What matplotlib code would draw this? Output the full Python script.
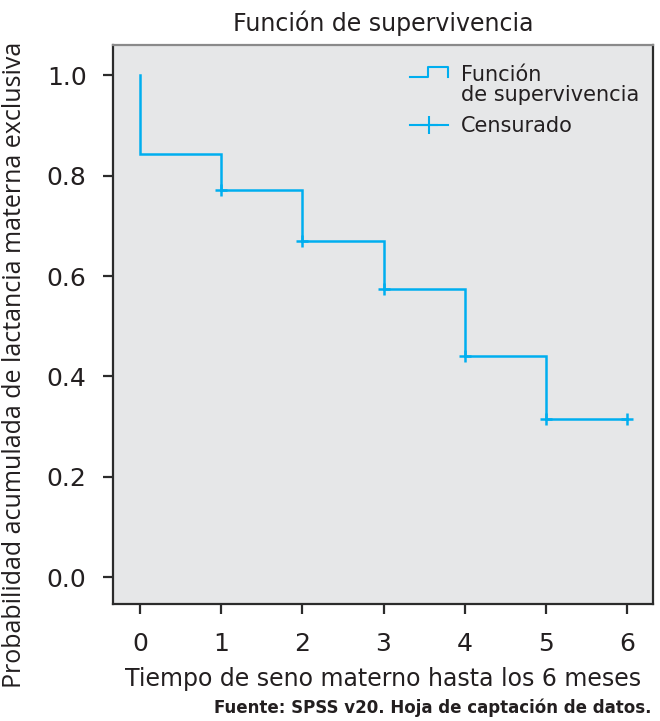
import matplotlib
matplotlib.use("Agg")
import matplotlib.pyplot as plt
from matplotlib.lines import Line2D
from matplotlib.legend_handler import HandlerBase

# Kaplan-Meier estimate of exclusive breastfeeding up to 6 months
step_times = [0, 0, 1, 2, 3, 4, 5, 6]
step_surv = [1.0, 0.843, 0.771, 0.669, 0.574, 0.440, 0.315, 0.315]
censor_times = [1, 2, 3, 4, 5, 6]
censor_surv = [0.771, 0.669, 0.574, 0.440, 0.315, 0.315]
x_ticks = [0, 1, 2, 3, 4, 5, 6]
y_ticks = [0.0, 0.2, 0.4, 0.6, 0.8, 1.0]

CYAN = "#00AEEF"
TEXT = "#231F20"
PANEL = "#E6E7E8"
EDGE = "#2b2b2b"
MAIN_FONT = "DejaVu Sans"
LABEL_FONT = "Open Sans"


class HandlerStep(HandlerBase):
    """Legend key drawn as a small step."""
    def create_artists(self, legend, orig_handle, xdescent, ydescent,
                       width, height, fontsize, trans):
        x0, y0 = -xdescent, -ydescent
        w = width
        base = y0 + 0.78 * fontsize
        rise = 0.5 * fontsize
        xs = [x0, x0 + 0.47 * w, x0 + 0.47 * w, x0 + w, x0 + w]
        ys = [base, base, base + rise, base + rise, base + 0.05 * rise]
        line = Line2D(xs, ys, color=orig_handle.get_color(),
                      linewidth=orig_handle.get_linewidth(), transform=trans)
        return [line]


fig = plt.figure(figsize=(6.6, 7.21), dpi=100)
ax = fig.add_axes([113 / 660, 1 - 604 / 721, 540 / 660, (604 - 45) / 721])
ax.set_facecolor(PANEL)

step_line, = ax.step(step_times, step_surv, where="post", color=CYAN,
                     linewidth=1.8, solid_joinstyle="miter")
censor_pts, = ax.plot(censor_times, censor_surv, linestyle="none", marker="+",
                      markersize=9, markeredgewidth=1.8, color=CYAN)

ax.set_xlim(-0.333, 6.32)
ax.set_ylim(-0.053, 1.06)
ax.set_xticks(x_ticks)
ax.set_yticks(y_ticks)
ax.set_xticklabels([str(t) for t in x_ticks], fontsize=18, color=TEXT,
                   family=MAIN_FONT)
ax.set_yticklabels([f"{t:.1f}" for t in y_ticks], fontsize=18, color=TEXT,
                   family=MAIN_FONT)
ax.tick_params(axis="x", direction="out", length=7, width=1.6, color=EDGE, pad=13)
ax.tick_params(axis="y", direction="out", length=7, width=1.6, color=EDGE, pad=12)

for side, sp in ax.spines.items():
    sp.set_color(EDGE)
    sp.set_linewidth(1.6)
ax.spines["top"].set_color("#8a8a8a")

ax.set_title("Función de supervivencia", fontsize=17, color=TEXT,
             family=MAIN_FONT, pad=10)
ax.set_xlabel("Tiempo de seno materno hasta los 6 meses", fontsize=17,
              color=TEXT, family=MAIN_FONT, labelpad=8)
ax.set_ylabel("Probabilidad acumulada de lactancia materna exclusiva",
              fontsize=18, color=TEXT, family=LABEL_FONT)
ax.yaxis.set_label_coords(-0.159, 0.428)

step_key = Line2D([], [], color=CYAN, linewidth=1.5)
cross_key = Line2D([], [], color=CYAN, linewidth=1.5, marker="+",
                   markersize=13, markeredgewidth=1.5)
leg = ax.legend([step_key, cross_key],
                ["Función\nde supervivencia", "Censurado"],
                handler_map={step_key: HandlerStep()},
                loc="upper left", bbox_to_anchor=(0.515, 0.997),
                frameon=False, handlelength=1.85, handletextpad=0.6,
                labelspacing=0.5, prop={"family": MAIN_FONT, "size": 15})
for t in leg.get_texts():
    t.set_color(TEXT)
    t.set_linespacing(1.0)

fig.text(652 / 660, 1 - 708 / 721, "Fuente: SPSS v20. Hoja de captación de datos.",
         ha="right", va="center", fontsize=12, color=TEXT, family=MAIN_FONT,
         fontweight="semibold")

fig.savefig("out.png", dpi=100)
